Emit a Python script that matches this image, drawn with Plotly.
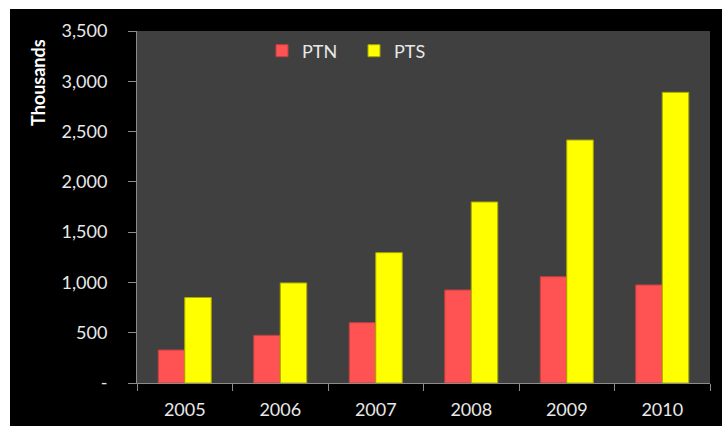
import plotly.graph_objects as go

years = ["2005", "2006", "2007", "2008", "2009", "2010"]
ptn = [328, 474, 600, 925, 1057, 975]
pts = [850, 995, 1296, 1800, 2416, 2890]
ytick_vals = [0, 500, 1000, 1500, 2000, 2500, 3000, 3500]
ytick_text = ["-", "500", "1,000", "1,500", "2,000", "2,500", "3,000", "3,500"]

W, H = 722, 426
L, R, T, B = 137, 12, 31, 43
pw, ph = W - L - R, H - T - B

FONT = "Lato"

fig = go.Figure()
fig.add_trace(go.Bar(name="PTN", x=years, y=ptn,
                     marker=dict(color="#ff5353", line=dict(color="#c04040", width=1))))
fig.add_trace(go.Bar(name="PTS", x=years, y=pts,
                     marker=dict(color="#ffff00", line=dict(color="#a8a800", width=1))))

fig.update_layout(
    width=W, height=H,
    margin=dict(l=L, r=R, t=T, b=B, pad=0, autoexpand=False),
    paper_bgcolor="#000000",
    plot_bgcolor="#404040",
    barmode="group", bargap=0.445, bargroupgap=0,
    font=dict(family=FONT, color="#e8e8e8", size=18),
    showlegend=True,
    legend=dict(orientation="h", x=(262 - L) / pw, y=(H - B - 51) / ph, xanchor="left", yanchor="middle",
                bgcolor="rgba(0,0,0,0)", font=dict(size=18, color="#e8e8e8", family=FONT),
                entrywidth=47, entrywidthmode="pixels", itemclick=False),
    xaxis=dict(showline=True, linecolor="#8c8c8c", linewidth=1, ticks="outside",
               tickson="boundaries", ticklen=7, tickcolor="#8c8c8c",
               tickfont=dict(size=18, color="#e8e8e8"), showgrid=False, mirror=False,
               ticklabelstandoff=10, automargin=False),
    yaxis=dict(range=[0, 3500], tickvals=ytick_vals, ticktext=ytick_text,
               showline=True, linecolor="#8c8c8c", linewidth=1, ticks="outside",
               ticklen=8, tickcolor="#8c8c8c", showgrid=False, zeroline=False,
               tickfont=dict(size=18, color="#e8e8e8"), ticklabelstandoff=17,
               automargin=False),
    shapes=[
        dict(type="rect", xref="paper", yref="paper", layer="above",
             x0=(0 - L) / pw, x1=(W - L) / pw, y0=(H - B - 9) / ph, y1=(H - B) / ph,
             fillcolor="#ffffff", line=dict(width=0)),
        dict(type="rect", xref="paper", yref="paper", layer="above",
             x0=(0 - L) / pw, x1=(10 - L) / pw, y0=(H - B - H) / ph, y1=(H - B) / ph,
             fillcolor="#ffffff", line=dict(width=0)),
    ],
    annotations=[
        dict(text="<b>Thousands</b>", textangle=-90, xref="paper", yref="paper",
             x=(38 - L) / pw, y=(H - B - 83) / ph, showarrow=False,
             xanchor="center", yanchor="middle",
             font=dict(size=18, color="#ffffff", family=FONT)),
    ],
)

fig.write_html(
    "out.html",
    config={"displayModeBar": False},
    post_script=(
        "document.documentElement.style.margin='0';"
        "document.documentElement.style.overflow='hidden';"
        "document.body.style.margin='0';"
        "document.body.style.overflow='hidden';"
    ),
)
